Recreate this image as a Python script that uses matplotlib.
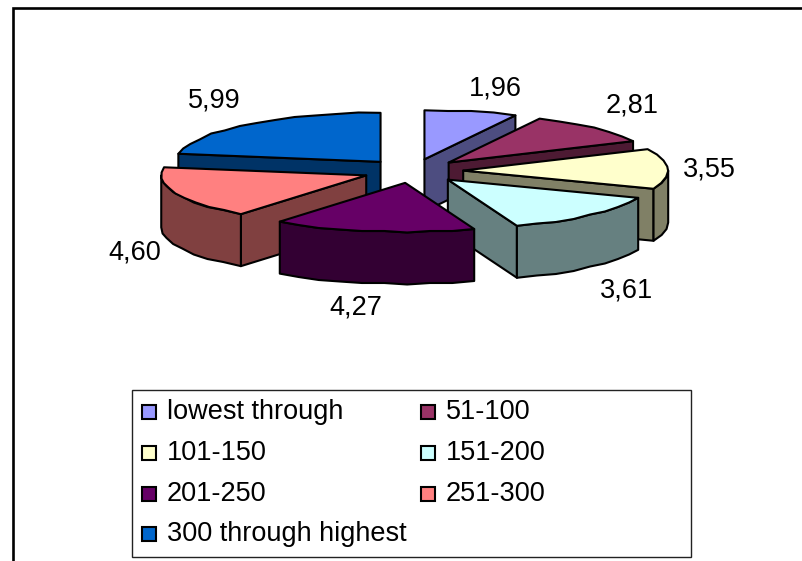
# exploded 3D pie drawn by hand, matplotlib has no 3D pie
import numpy as np
import matplotlib
matplotlib.use('Agg')
import matplotlib.pyplot as plt
from matplotlib.patches import Polygon, Rectangle

plt.rcParams['font.family'] = ['Liberation Sans', 'DejaVu Sans']

categories = ['lowest through', '51-100', '101-150', '151-200',
              '201-250', '251-300', '300 through highest']
values = [1.96, 2.81, 3.55, 3.61, 4.27, 4.60, 5.99]
value_labels = ['1,96', '2,81', '3,55', '3,61', '4,27', '4,60', '5,99']
top_colors = ['#9999FF', '#993366', '#FFFFCC', '#CCFFFF', '#660066', '#FF8080', '#0066CC']
side_colors = ['#4D4D80', '#4D1A33', '#808066', '#668080', '#330033', '#804040', '#003366']

# pie geometry in pixels
cx, cy = 413, 171
rx, ry = 205, 49
depth = 52
explode = 0.245
# back slices first so the front ones cover them
draw_order = [6, 0, 1, 2, 5, 3, 4]

label_pos = [(495, 88), (632, 105), (709, 169), (627, 290), (356, 307), (135, 252), (214, 100)]
legend_rows = [412, 412, 453, 453, 494, 494, 534]
legend_cols = [142, 421, 142, 421, 142, 421, 142]

fig = plt.figure(figsize=(8.02, 5.61), dpi=100)
ax = fig.add_axes([0, 0, 1, 1])
ax.set_xlim(0, 802)
ax.set_ylim(561, 0)
ax.axis('off')

# chart frame runs off the right and bottom of the image
ax.plot([12.5, 12.5, 802], [561, 8, 8], color='black', lw=1.9, solid_joinstyle='miter')


def arc(ox, oy, a0, a1):
    # angles in degrees, clockwise from 12 o'clock
    # coarse steps and a y grid give the rim its low resolution, bumpy outline
    n = max(int((a1 - a0) / 6), 1) + 1
    t = np.radians(np.linspace(a0, a1, n))
    x = ox + rx * np.sin(t)
    y = oy - ry * np.cos(t)
    y[1:-1] = np.round(y[1:-1] / 1.5) * 1.5
    return np.column_stack([x, y])


def add_face(pts, color):
    ax.add_patch(Polygon(pts, closed=True, facecolor=color, edgecolor='black',
                         lw=1.5, joinstyle='round'))


def cut_face(ox, oy, a, color):
    edge = arc(ox, oy, a, a)[0]
    add_face([(ox, oy), edge, edge + (0, depth), (ox, oy + depth)], color)


bounds = np.concatenate([[0], np.cumsum(values)]) / np.sum(values) * 360

for i in draw_order:
    a0, a1 = bounds[i], bounds[i + 1]
    mid = np.radians((a0 + a1) / 2)
    ox = cx + explode * rx * np.sin(mid)
    oy = cy - explode * ry * np.cos(mid)

    # only faces turned to the viewer get drawn
    if np.sin(np.radians(a0)) < 0:
        cut_face(ox, oy, a0, side_colors[i])
    if np.sin(np.radians(a1)) > 0:
        cut_face(ox, oy, a1, side_colors[i])

    w0, w1 = max(a0, 90), min(a1, 270)
    if w0 < w1:
        rim = arc(ox, oy, w0, w1)
        add_face(np.vstack([rim, rim[::-1] + (0, depth)]), side_colors[i])

    add_face(np.vstack([[(ox, oy)], arc(ox, oy, a0, a1)]), top_colors[i])

for text, (x, y) in zip(value_labels, label_pos):
    ax.text(x, y, text, fontsize=19.5, color='black', ha='center', va='center')

# legend box
ax.add_patch(Rectangle((131.5, 389.5), 559.5, 167, facecolor='white', edgecolor='#222222', lw=1))
for name, color, x, y in zip(categories, top_colors, legend_cols, legend_rows):
    ax.add_patch(Rectangle((x, y - 7), 14, 14, facecolor=color, edgecolor='black', lw=1.5))
    ax.text(x + 25, y, name, fontsize=19.5, color='black', ha='left', va='center')

fig.savefig('out.png', dpi=100)
